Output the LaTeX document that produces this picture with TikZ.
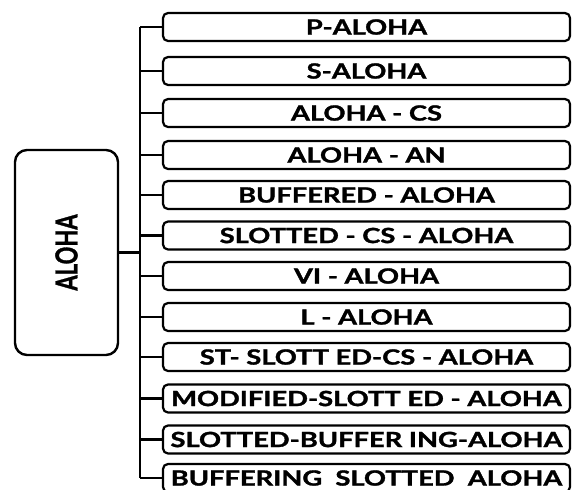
\documentclass[tikz,border=0pt]{standalone}
\usepackage{graphicx}
\usepackage{fontspec}
\setmainfont{Lato}[UprightFont=* Bold, UprightFeatures={FakeBold=1.3}]
\usetikzlibrary{positioning}

% wide letters, as in the reference
\newcommand{\widetxt}[1]{\scalebox{1.3}[1]{#1}}

\tikzset{
  leafbox/.style={draw, line width=2.2pt, rounded corners=5pt,
    minimum width=407pt, minimum height=28pt, inner sep=0pt,
    font=\fontsize{21}{21}\selectfont},
  rootbox/.style={draw, line width=2.4pt, rounded corners=12pt,
    minimum width=103pt, minimum height=205pt, inner sep=0pt},
  branch/.style={line width=2.6pt}
}

\begin{document}
\begin{tikzpicture}[x=1pt, y=-1pt]

\useasboundingbox (0,0) rectangle (576,490);

% Root
\node[rootbox] (aloha) at (66.5,252.5) {};
\node[rotate=90, font=\fontsize{22}{22}\selectfont] (alohatext) at (66.5,252.5)
    {\scalebox{1}[1.38]{ALOHA}};

% ================================================================
% Variants
% ================================================================
\node[leafbox] (paloha)   at (366.5, 27)  {\widetxt{P-ALOHA}};
\node[leafbox] (saloha)   at (366.5, 71)  {\widetxt{S-ALOHA}};
\node[leafbox] (alohacs)  at (366.5,113)  {\widetxt{ALOHA - CS}};
\node[leafbox] (alohaan)  at (366.5,155)  {\widetxt{ALOHA - AN}};
\node[leafbox] (buffered) at (366.5,195)  {\widetxt{BUFFERED - ALOHA}};
\node[leafbox] (slotcs)   at (366.5,235.5){\widetxt{SLOTTED - CS - ALOHA}};
\node[leafbox] (vialoha)  at (366.5,276)  {\widetxt{VI - ALOHA}};
\node[leafbox] (laloha)   at (366.5,317)  {\widetxt{L - ALOHA}};
\node[leafbox] (stslot)   at (366.5,357)  {\widetxt{ST- SLOTT ED-CS - ALOHA}};
\node[leafbox] (modslot)  at (366.5,398.5){\widetxt{MODIFIED-SLOTT ED - ALOHA}};
\node[leafbox] (slotbuff) at (366.5,439.5){\widetxt{SLOTTED-BUFFER ING-ALOHA}};
\node[leafbox] (buffslot) at (366.5,478)  {\widetxt{BUFFERING\ \ SLOTTED\ \ ALOHA}};

% ================================================================
% Tree lines
% ================================================================
\coordinate (trunk) at (140,252.5);
\draw[branch] (aloha.east) -- (trunk);
\draw[branch] (trunk |- paloha.west) -- (trunk |- buffslot.west);

\draw[branch] (trunk |- paloha.west)   -- (paloha.west);
\draw[branch] (trunk |- saloha.west)   -- (saloha.west);
\draw[branch] (trunk |- alohacs.west)  -- (alohacs.west);
\draw[branch] (trunk |- alohaan.west)  -- (alohaan.west);
\draw[branch] (trunk |- buffered.west) -- (buffered.west);
\draw[branch] (trunk |- slotcs.west)   -- (slotcs.west);
\draw[branch] (trunk |- vialoha.west)  -- (vialoha.west);
\draw[branch] (trunk |- laloha.west)   -- (laloha.west);
\draw[branch] (trunk |- stslot.west)   -- (stslot.west);
\draw[branch] (trunk |- modslot.west)  -- (modslot.west);
\draw[branch] (trunk |- slotbuff.west) -- (slotbuff.west);
\draw[branch] (trunk |- buffslot.west) -- (buffslot.west);

\end{tikzpicture}
\end{document}
